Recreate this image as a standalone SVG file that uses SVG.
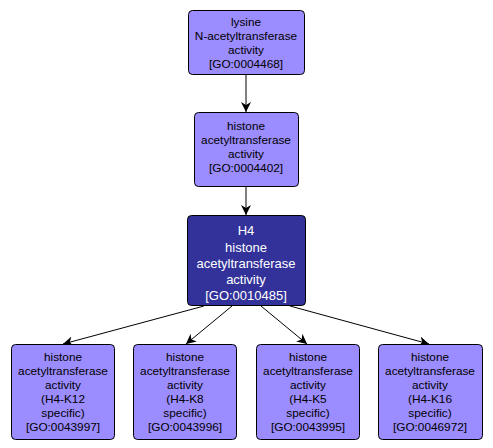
<svg xmlns="http://www.w3.org/2000/svg" width="493" height="448" viewBox="0 0 493 448">
<defs>
<style>
.n rect{fill:#9b8cff;stroke:#000;stroke-width:1}
.d rect{fill:#32329a;stroke:#000;stroke-width:1}
.n text{font-family:"Liberation Sans",Arial,sans-serif;font-size:11.8px;fill:#000;text-anchor:middle}
.d text{font-family:"Liberation Sans",Arial,sans-serif;font-size:13px;fill:#fff;text-anchor:middle}
.e line{stroke:#000;stroke-width:1;marker-end:url(#ah)}
</style>
<marker id="ah" viewBox="0 0 10 10" refX="10" refY="5" markerWidth="10" markerHeight="10" markerUnits="userSpaceOnUse" orient="auto">
<path d="M0,0 L10,5 L0,10 L3,5 z" fill="#000"/>
</marker>
</defs>
<rect width="493" height="448" fill="#fff"/>
<g id="connectors" class="e">
<line x1="246" y1="74" x2="246" y2="112"/>
<line x1="246" y1="186" x2="246" y2="215"/>
<line x1="204" y1="306" x2="63" y2="344"/>
<line x1="232" y1="306" x2="186" y2="344"/>
<line x1="261" y1="306" x2="307" y2="344"/>
<line x1="290" y1="306" x2="429" y2="344"/>
</g>
<g id="GO0004468" class="n">
<rect x="188.5" y="10.5" width="116" height="64" rx="4"/>
<text x="246" y="26">lysine</text>
<text x="246" y="40">N-acetyltransferase</text>
<text x="246" y="54">activity</text>
<text x="246" y="68">[GO:0004468]</text>
</g>
<g id="GO0004402" class="n">
<rect x="194.5" y="112.5" width="104" height="74" rx="4"/>
<text x="246" y="130">histone</text>
<text x="246" y="144">acetyltransferase</text>
<text x="246" y="158">activity</text>
<text x="246" y="172">[GO:0004402]</text>
</g>
<g id="GO0010485" class="d">
<rect x="187.5" y="215.5" width="118" height="90" rx="4"/>
<text x="246" y="235">H4</text>
<text x="246" y="252">histone</text>
<text x="246" y="268">acetyltransferase</text>
<text x="246" y="284">activity</text>
<text x="246" y="300">[GO:0010485]</text>
</g>
<g id="GO0043997" class="n">
<rect x="11.5" y="344.5" width="103" height="95" rx="4"/>
<text x="63" y="361">histone</text>
<text x="63" y="375">acetyltransferase</text>
<text x="63" y="389">activity</text>
<text x="63" y="403">(H4-K12</text>
<text x="63" y="417">specific)</text>
<text x="63" y="431">[GO:0043997]</text>
</g>
<g id="GO0043996" class="n">
<rect x="133.5" y="344.5" width="103" height="95" rx="4"/>
<text x="185" y="361">histone</text>
<text x="185" y="375">acetyltransferase</text>
<text x="185" y="389">activity</text>
<text x="185" y="403">(H4-K8</text>
<text x="185" y="417">specific)</text>
<text x="185" y="431">[GO:0043996]</text>
</g>
<g id="GO0043995" class="n">
<rect x="256.5" y="344.5" width="103" height="95" rx="4"/>
<text x="308" y="361">histone</text>
<text x="308" y="375">acetyltransferase</text>
<text x="308" y="389">activity</text>
<text x="308" y="403">(H4-K5</text>
<text x="308" y="417">specific)</text>
<text x="308" y="431">[GO:0043995]</text>
</g>
<g id="GO0046972" class="n">
<rect x="378.5" y="344.5" width="104" height="95" rx="4"/>
<text x="430" y="361">histone</text>
<text x="430" y="375">acetyltransferase</text>
<text x="430" y="389">activity</text>
<text x="430" y="403">(H4-K16</text>
<text x="430" y="417">specific)</text>
<text x="430" y="431">[GO:0046972]</text>
</g>
</svg>
